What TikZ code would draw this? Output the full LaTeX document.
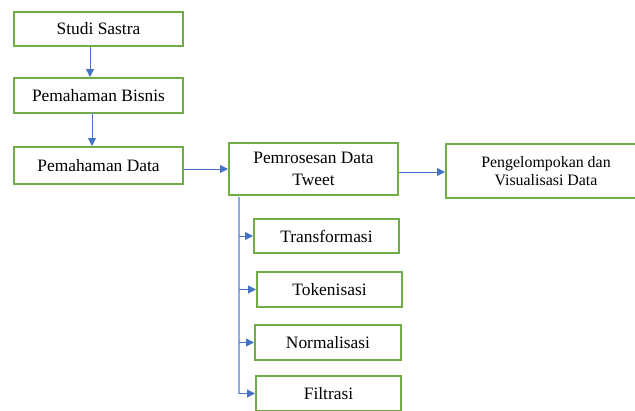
\documentclass[tikz,border=0pt]{standalone}
\usepackage{fontspec}
\setmainfont{Liberation Serif}
\usetikzlibrary{arrows.meta}
\definecolor{boxgreen}{RGB}{112,173,71}
\definecolor{arrblue}{RGB}{68,114,196}
\definecolor{lightblue}{RGB}{143,170,220}
\tikzset{
  box/.style={draw=boxgreen, line width=2pt, fill=white, align=center, inner sep=0pt,
    font=\fontsize{17.4}{22}\selectfont},
  smallbox/.style={box, font=\fontsize{15.9}{18}\selectfont},
  arr/.style={draw=arrblue, line width=1pt, -{Triangle[length=8pt,width=8pt]}},
  vline/.style={draw=lightblue, line width=1.2pt}
}
\begin{document}
\begin{tikzpicture}[x=1pt,y=-1pt]
\useasboundingbox (0,0) rectangle (635,410);
\clip (0,0) rectangle (635,410);
\fill[white] (0,0) rectangle (635,410);
\node[box, minimum width=169pt, minimum height=34pt] (s) at (98.5,29) {Studi Sastra};
\node[box, minimum width=169pt, minimum height=35pt] (b) at (98.5,95.5) {Pemahaman Bisnis};
\node[box, minimum width=169pt, minimum height=37pt] (d) at (98.5,165.5) {Pemahaman Data};
\node[box, minimum width=169pt, minimum height=52pt] (p) at (313.5,169) {Pemrosesan Data\\Tweet};
\node[smallbox, minimum width=200pt, minimum height=54pt] (g) at (546,171) {Pengelompokan dan\\Visualisasi Data};
\node[box, minimum width=145pt, minimum height=34pt] (t1) at (326.5,236) {Transformasi};
\node[box, minimum width=145pt, minimum height=35pt] (t2) at (329.5,289.5) {Tokenisasi};
\node[box, minimum width=146pt, minimum height=35pt] (t3) at (328,342.5) {Normalisasi};
\node[box, minimum width=145pt, minimum height=35pt] (t4) at (328.5,393.5) {Filtrasi};
\draw[arr] ([xshift=-8.5pt]s.south) -- ([xshift=-8.5pt]b.north);
\draw[arr] ([xshift=-6.5pt]b.south) -- ([xshift=-6.5pt]d.north);
\draw[arr] ([yshift=-3.5pt]d.east) -- (p.west);
\draw[arr] ([yshift=-3pt]p.east) -- ([yshift=-3pt]p.east -| g.west);
\coordinate (v0) at ([xshift=-74.5pt,yshift=-1pt]p.south);
\draw[vline] (v0) -- (v0 |- t4.west);
\draw[arr] (v0 |- t1.west) -- (t1.west);
\draw[arr] (v0 |- t2.west) -- (t2.west);
\draw[arr] (v0 |- t3.west) -- (t3.west);
\draw[arr] (v0 |- t4.west) -- (t4.west);
\end{tikzpicture}
\end{document}
